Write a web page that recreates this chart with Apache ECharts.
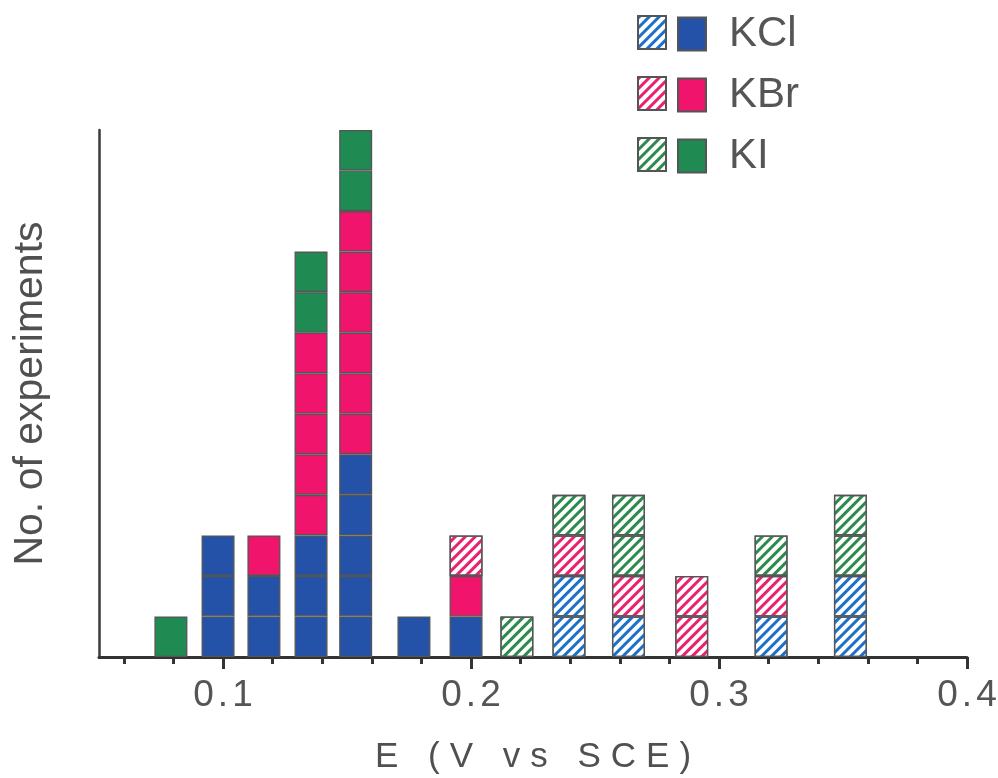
<!DOCTYPE html>
<html>
<head>
<meta charset="utf-8">
<script src="https://cdn.jsdelivr.net/npm/echarts@6/dist/echarts.min.js"></script>
<style>
html,body{margin:0;padding:0;background:#fff;}
#chart{width:998px;height:778px;}
</style>
</head>
<body>
<div id="chart"></div>
<script>
// Bin centres (E, V vs SCE)
const xPositions = [0.079, 0.098, 0.1165, 0.1355, 0.1535, 0.177, 0.198, 0.2185, 0.2395, 0.2635, 0.289, 0.321, 0.353];
// Number of experiments in each bin
const kclSolid   = [0, 3, 2, 3, 5, 1, 1, 0, 0, 0, 0, 0, 0];
const kclHatched = [0, 0, 0, 0, 0, 0, 0, 0, 2, 1, 0, 1, 2];
const kbrSolid   = [0, 0, 1, 5, 6, 0, 1, 0, 0, 0, 0, 0, 0];
const kbrHatched = [0, 0, 0, 0, 0, 0, 1, 0, 1, 1, 2, 1, 0];
const kiSolid    = [1, 0, 0, 2, 2, 0, 0, 0, 0, 0, 0, 0, 0];
const kiHatched  = [0, 0, 0, 0, 0, 0, 0, 1, 1, 2, 0, 1, 2];
const majorTicks = [0.1, 0.2, 0.3, 0.4];
const minorTicks = [0.06, 0.08, 0.12, 0.14, 0.16, 0.18, 0.22, 0.24, 0.26, 0.28, 0.32, 0.34, 0.36, 0.38];
const xTitle = 'E (V vs SCE)';
const yTitle = 'No. of experiments';

const groups = [
  {name: 'KCl', counts: kclSolid, color: '#2352a8', hatch: null},
  {name: 'KCl hatched', counts: kclHatched, color: '#ffffff', hatch: '#1c70c8'},
  {name: 'KBr', counts: kbrSolid, color: '#f0146c', hatch: null},
  {name: 'KBr hatched', counts: kbrHatched, color: '#ffffff', hatch: '#e8226e'},
  {name: 'KI', counts: kiSolid, color: '#1f8a52', hatch: null},
  {name: 'KI hatched', counts: kiHatched, color: '#ffffff', hatch: '#2b8a4c'}
];

// one stacked series per unit level so each experiment is its own box.
// value dimension first so that ECharts stacks the count (y) dimension.
const series = [];
groups.forEach(g => {
  const maxN = Math.max.apply(null, g.counts);
  for (let k = 0; k < maxN; k++) {
    const data = xPositions.map((x, i) => [g.counts[i] > k ? 1 : '-', x]);
    const itemStyle = {color: g.color, borderColor: '#555', borderWidth: 1.3};
    if (g.hatch) {
      itemStyle.decal = {
        symbol: 'rect', symbolSize: 1, color: g.hatch,
        dashArrayX: [1, 0], dashArrayY: [2.8, 3.4], rotation: -Math.PI / 4
      };
    }
    series.push({
      type: 'bar', name: g.name, stack: 'all', barWidth: 33,
      xAxisIndex: 0, yAxisIndex: 0,
      encode: {x: 1, y: 0},
      dimensions: ['count', 'E'],
      itemStyle: itemStyle, emphasis: {disabled: true},
      data: data
    });
  }
});

function spaced(str, style) {
  return str.split('').map(c => '{' + style + '|' + c + '}').join('');
}

const legendText = {fontSize: 42, color: '#555', fontFamily: 'Liberation Sans, Arial, sans-serif', padding: [0, 0, 0, 18]};

const chart = echarts.init(document.getElementById('chart'));
chart.setOption({
  animation: false,
  backgroundColor: '#fff',
  grid: {left: 99, right: 31, top: 130, bottom: 121, outerBoundsMode: 'none', containLabel: false},
  legend: [
    {
      data: ['KCl hatched', 'KBr hatched', 'KI hatched'],
      orient: 'vertical', left: 632, top: 10,
      itemWidth: 28, itemHeight: 33, itemGap: 26,
      selectedMode: false, icon: 'rect',
      formatter: () => '',
      textStyle: legendText
    },
    {
      data: ['KCl', 'KBr', 'KI'],
      orient: 'vertical', left: 672, top: 8,
      itemWidth: 28, itemHeight: 33, itemGap: 19,
      selectedMode: false, icon: 'rect',
      textStyle: legendText
    }
  ],
  xAxis: [
    {
      type: 'value', min: 0.05, max: 0.4, position: 'bottom',
      name: spaced(xTitle, 't'), nameLocation: 'middle', nameGap: 83,
      nameTextStyle: {
        rich: {t: {fontSize: 35, color: '#505050', fontFamily: 'Liberation Sans, Arial, sans-serif', padding: [0, 5]}}
      },
      axisLine: {show: true, lineStyle: {color: '#333', width: 3}},
      axisTick: {show: true, customValues: majorTicks, length: 12, lineStyle: {color: '#333', width: 3}},
      axisLabel: {
        show: true, customValues: majorTicks, margin: 20,
        formatter: v => spaced(v.toFixed(1), 'd'),
        rich: {d: {fontSize: 37, color: '#555', fontFamily: 'Liberation Sans, Arial, sans-serif', padding: [0, 2]}}
      },
      splitLine: {show: false}
    },
    {
      type: 'value', min: 0.05, max: 0.4, position: 'bottom', offset: 0,
      axisLine: {show: false},
      axisTick: {show: true, customValues: minorTicks, length: 7, lineStyle: {color: '#333', width: 3}},
      axisLabel: {show: false},
      splitLine: {show: false}
    }
  ],
  yAxis: {
    type: 'value', min: 0, max: 13,
    name: yTitle, nameLocation: 'middle', nameGap: 48, nameRotate: 90,
    nameTextStyle: {fontSize: 41, color: '#505050', fontFamily: 'Liberation Sans, Arial, sans-serif'},
    axisLine: {show: true, lineStyle: {color: '#3a3a3a', width: 2.5}},
    axisTick: {show: false},
    axisLabel: {show: false},
    splitLine: {show: false}
  },
  series: series
});
</script>
</body>
</html>
